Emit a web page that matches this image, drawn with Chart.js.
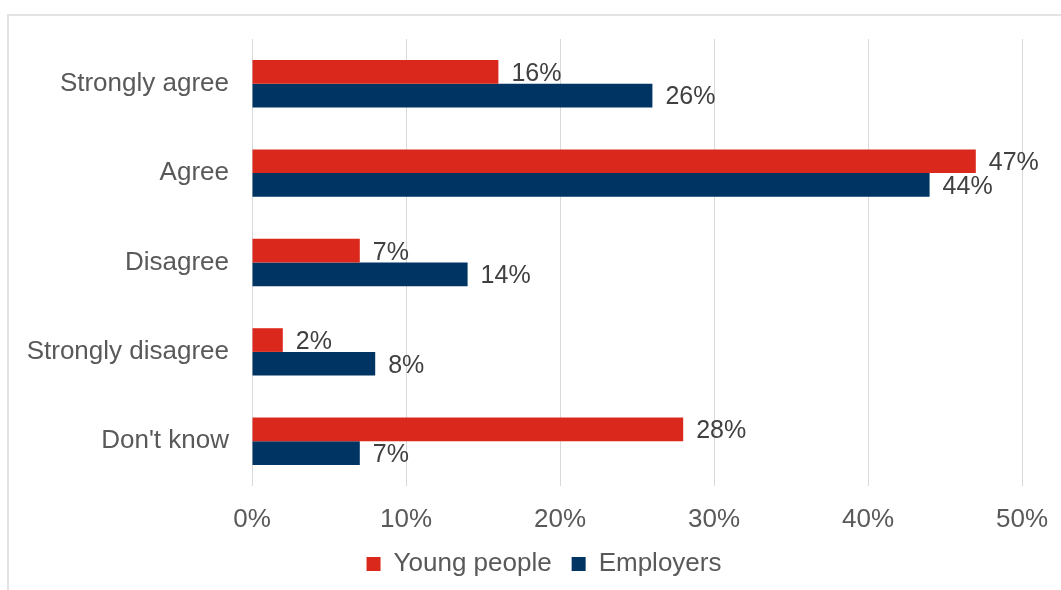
<!DOCTYPE html>
<html>
<head>
<meta charset="utf-8">
<script src="https://cdn.jsdelivr.net/npm/chart.js@4/dist/chart.umd.min.js"></script>
<style>
  html, body { margin: 0; padding: 0; background: #fff; }
  #wrap { position: relative; width: 1061px; height: 590px; overflow: hidden; }
  #frame { position: absolute; left: 7px; top: 14px; width: 1100px; height: 640px;
           border-top: 2px solid #e3e3e3; border-left: 2px solid #e3e3e3; }
  canvas { position: absolute; left: 0; top: 0; }
</style>
</head>
<body>
<div id="wrap">
  <div id="frame"></div>
  <canvas id="myChart" width="1061" height="590"></canvas>
</div>
<script>
categories = ["Strongly agree", "Agree", "Disagree", "Strongly disagree", "Don't know"];
youngPeople = [16, 47, 7, 2, 28];
employers = [26, 44, 14, 8, 7];
xTicks = [0, 10, 20, 30, 40, 50];

textFont = "'Liberation Sans', Arial, sans-serif";

// draws the "16%" style labels right of every bar
barLabels = {
  id: "barLabels",
  afterDatasetsDraw: function (chart) {
    let ctx = chart.ctx;
    ctx.save();
    ctx.font = "25px " + textFont;
    ctx.fillStyle = "#404040";
    ctx.textAlign = "left";
    ctx.textBaseline = "middle";
    chart.data.datasets.forEach(function (ds, i) {
      let meta = chart.getDatasetMeta(i);
      meta.data.forEach(function (bar, j) {
        ctx.fillText(ds.data[j] + "%", bar.x + 13, bar.y + 2);
      });
    });
    ctx.restore();
  },
};

// legend sits a bit right of the canvas centre in the original
legendShift = {
  id: "legendShift",
  afterLayout: function (chart) {
    chart.legend.left += 29;
    chart.legend.right += 29;
  },
};

config = {
  type: "bar",
  data: {
    labels: categories,
    datasets: [
      {
        label: "Young people",
        data: youngPeople,
        backgroundColor: "#da291c",
        barPercentage: 1,
        categoryPercentage: 0.53,
      },
      {
        label: "Employers",
        data: employers,
        backgroundColor: "#003462",
        barPercentage: 1,
        categoryPercentage: 0.53,
      },
    ],
  },
  options: {
    indexAxis: "y",
    responsive: false,
    animation: false,
    layout: { padding: { left: 8, right: 39, top: 39, bottom: 3 } },
    scales: {
      x: {
        min: 0,
        max: 50,
        afterBuildTicks: function (scale) {
          scale.ticks = xTicks.map(function (v) { return { value: v }; });
        },
        afterFit: function (scale) {
          scale.height = 45;
          scale.paddingLeft = 0;
          scale.paddingRight = 0;
        },
        grid: { color: "#d9d9d9", lineWidth: 1, drawTicks: false },
        border: { display: false },
        ticks: {
          padding: 18,
          color: "#595959",
          font: { family: textFont, size: 26 },
          callback: function (v) { return v + "%"; },
        },
      },
      y: {
        afterFit: function (scale) { scale.width = 244; },
        grid: { display: false },
        border: { display: false },
        ticks: {
          padding: 15,
          color: "#595959",
          font: { family: textFont, size: 26 },
        },
      },
    },
    plugins: {
      tooltip: { enabled: false },
      legend: {
        position: "bottom",
        labels: {
          boxWidth: 14,
          boxHeight: 14,
          padding: 20,
          color: "#595959",
          font: { family: textFont, size: 26 },
        },
      },
    },
  },
  plugins: [barLabels, legendShift],
};

myChart = new Chart(document.getElementById("myChart"), config);
</script>
</body>
</html>
